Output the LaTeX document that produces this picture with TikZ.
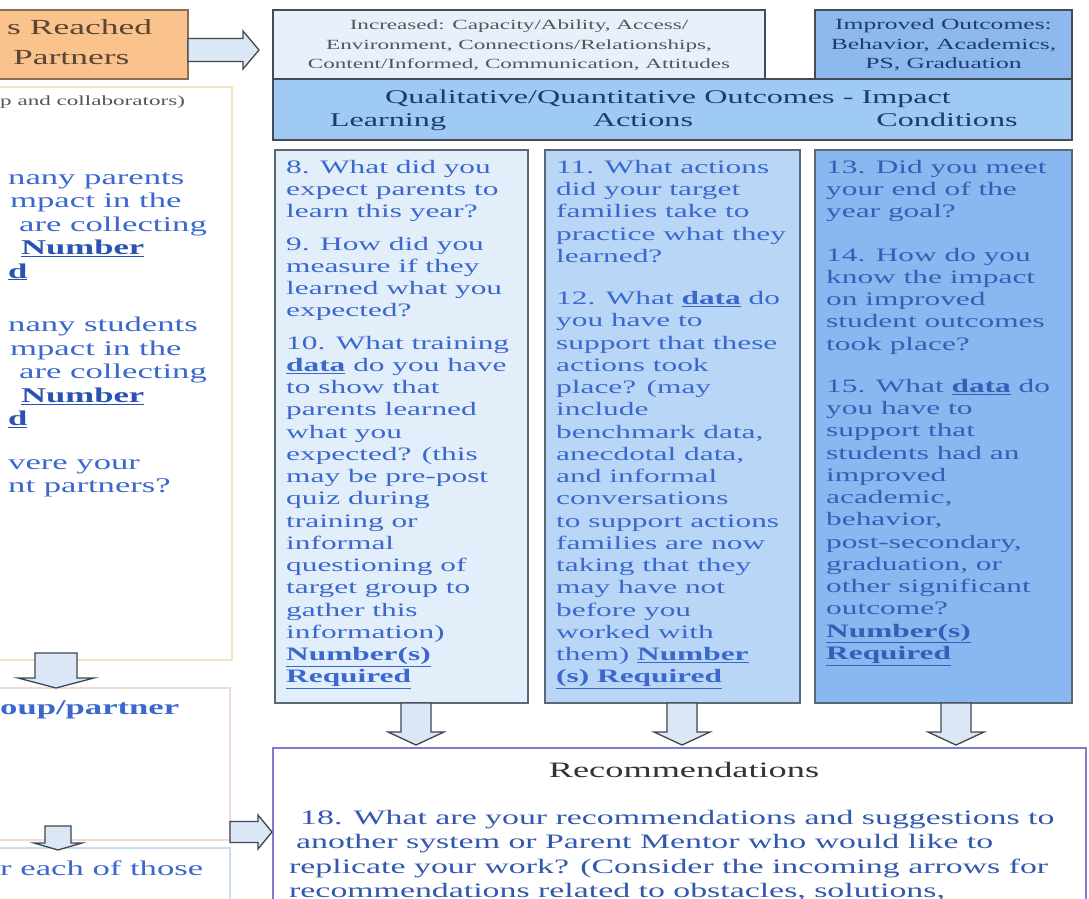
\documentclass[tikz,border=0pt]{standalone}
\usepackage{fontspec}
\setmainfont{Liberation Serif}[FakeStretch=1.65]
\usetikzlibrary{calc}
\definecolor{bordc}{HTML}{5B6878}
\definecolor{topbord}{HTML}{454C58}
\definecolor{orangef}{HTML}{FAC38E}
\definecolor{oranged}{HTML}{8A6E55}
\definecolor{orangetxt}{HTML}{5A4632}
\definecolor{top1f}{HTML}{E8F0FB}
\definecolor{top2f}{HTML}{8DB9EF}
\definecolor{headf}{HTML}{9FCAF4}
\definecolor{col1f}{HTML}{E3EEFB}
\definecolor{col2f}{HTML}{BAD6F6}
\definecolor{col3f}{HTML}{89B7EF}
\definecolor{arrowf}{HTML}{DCE7F6}
\definecolor{arrowd}{HTML}{3F4650}
\definecolor{qblue}{HTML}{3A68CC}
\definecolor{qblueb}{HTML}{2A52B0}
\definecolor{navy}{HTML}{1E3A72}
\definecolor{creamb}{HTML}{F2E3C2}
\definecolor{pinkb}{HTML}{F0D8D8}
\definecolor{lblueb}{HTML}{CADDF3}
\definecolor{recb}{HTML}{7C7CD0}
\definecolor{graytxt}{HTML}{555555}
\newcommand\dataul{\underline{\textbf{data}}}
\newcommand\ulbold[1]{\underline{\textbf{#1}}}
\newcommand\DownArr[5]{\draw[barrow,shift={#1}] (-#2,0) -- (-#2,#4) -- (-#3,#4) -- (0,#5) -- (#3,#4) -- (#2,#4) -- (#2,0) -- cycle;}
\newcommand\RightArr[5]{\draw[barrow,shift={#1}] (0,-#2) -- (#4,-#2) -- (#4,-#3) -- (#5,0) -- (#4,#3) -- (#4,#2) -- (0,#2) -- cycle;}
\begin{document}
\begin{tikzpicture}[x=1pt,y=-1pt,
  box/.style={draw=bordc, line width=1.6pt, anchor=north west, inner sep=0pt, outer sep=0pt},
  topbox/.style={box, draw=topbord, line width=1.8pt},
  leftbox/.style={draw, line width=1.4pt, fill=white, anchor=north west, inner sep=0pt, outer sep=0pt},
  barrow/.style={draw=arrowd, fill=arrowf, line width=1.3pt, line join=miter},
  coltext/.style={anchor=north west, inner sep=0pt, align=left, text=qblue, font=\fontsize{19}{22.25}\selectfont},
  lefttext/.style={anchor=north west, inner sep=0pt, align=left, text=qblue, font=\fontsize{21}{23.5}\selectfont},
  headtext/.style={anchor=base, inner sep=0pt, text=navy, font=\fontsize{19.5}{22}\selectfont}
]
\useasboundingbox (0,0) rectangle (1089,899);
\clip (0,0) rectangle (1089,899);
\fill[white] (0,0) rectangle (1089,899);

% ---------- left column (cut off) ----------
\node[box, draw=oranged, fill=orangef, minimum width=208, minimum height=69] (reached) at (-20,10) {};
\node[anchor=base west, inner sep=0pt, text=orangetxt, font=\fontsize{21.5}{24}\selectfont] (reachedA) at (7,35) {s Reached};
\node[anchor=base west, inner sep=0pt, text=orangetxt, font=\fontsize{21.5}{24}\selectfont] (reachedB) at (13,64) {Partners};

\node[leftbox, draw=creamb, minimum width=242, minimum height=573] (partners) at (-10,87) {};
\node[anchor=base west, inner sep=0pt, text=graytxt, font=\fontsize{14}{16}\selectfont] (collab) at (0,105) {p and collaborators)};

\node[lefttext] (lq1) at (8,172) {nany parents\\\hspace*{2pt}mpact in the\\\hspace*{11pt}are collecting\\\hspace*{13pt}{\color{qblueb}\ulbold{Number}}\\{\color{qblueb}\ulbold{d}}};
\node[lefttext] (lq2) at (8,317) {nany students\\\hspace*{2pt}mpact in the\\\hspace*{11pt}are collecting\\\hspace*{13pt}{\color{qblueb}\ulbold{Number}}\\{\color{qblueb}\ulbold{d}}};
\node[lefttext] (lq3) at (8,459) {vere your\\nt partners?};

\node[leftbox, draw=pinkb, minimum width=240, minimum height=152] (group) at (-10,688) {};
\node[anchor=base west, inner sep=0pt, text=qblue, font=\fontsize{21}{24}\selectfont\bfseries] (groupt) at (0,714) {oup/partner};

\node[leftbox, draw=lblueb, minimum width=240, minimum height=120] (each) at (-10,848) {};
\node[anchor=base west, inner sep=0pt, text=qblue, font=\fontsize{21}{24}\selectfont] (eacht) at (0,875) {r each of those};

% ---------- top boxes ----------
\node[topbox, fill=top1f, minimum width=492, minimum height=69] (top1) at (273,10) {};
\node[anchor=north, inner sep=0pt, align=center, text=graytxt, font=\fontsize{14}{19.5}\selectfont] (top1t) at (519,20) {Increased: Capacity/Ability, Access/\\Environment, Connections/Relationships,\\Content/Informed, Communication, Attitudes};

\node[topbox, fill=top2f, minimum width=257, minimum height=69] (top2) at (815,10) {};
\node[anchor=north, inner sep=0pt, align=center, text=navy, font=\fontsize{15.5}{19.5}\selectfont] (top2t) at (943.5,19) {Improved Outcomes:\\Behavior, Academics,\\PS, Graduation};

\node[topbox, fill=headf, minimum width=799, minimum height=61] (head) at (273,79) {};
\node[headtext] (headt) at (668,103) {Qualitative/Quantitative Outcomes - Impact};
\node[headtext] (hlearn) at (388,126) {Learning};
\node[headtext] (hact) at (643,126) {Actions};
\node[headtext] (hcond) at (947,126) {Conditions};

% ---------- columns ----------
\node[box, fill=col1f, minimum width=253, minimum height=553] (col1) at (275,150) {};
\node[box, fill=col2f, minimum width=255, minimum height=553] (col2) at (545,150) {};
\node[box, fill=col3f, minimum width=257, minimum height=553] (col3) at (815,150) {};

\node[coltext] (c1t) at ($(col1.north west)+(11,10)$) {8. What did you\\expect parents to\\learn this year?\\[10pt]9. How did you\\measure if they\\learned what you\\expected?\\[10pt]10. What training\\\dataul{} do you have\\to show that\\parents learned\\what you\\expected? (this\\may be pre-post\\quiz during\\training or\\informal\\questioning of\\target group to\\gather this\\information)\\\ulbold{Number(s)}\\\ulbold{Required}};

\node[coltext] (c2t) at ($(col2.north west)+(11,10)$) {11. What actions\\did your target\\families take to\\practice what they\\learned?\\[20pt]12. What \dataul{} do\\you have to\\support that these\\actions took\\place? (may\\include\\benchmark data,\\anecdotal data,\\and informal\\conversations\\to support actions\\families are now\\taking that they\\may have not\\before you\\worked with\\them) \ulbold{Number}\\\ulbold{(s) Required}};

\node[coltext, text=qblue!90!black] (c3t) at ($(col3.north west)+(11,10)$) {13. Did you meet\\your end of the\\year goal?\\[21pt]14. How do you\\know the impact\\on improved\\student outcomes\\took place?\\[20pt]15. What \dataul{} do\\you have to\\support that\\students had an\\improved\\academic,\\behavior,\\post-secondary,\\graduation, or\\other significant\\outcome?\\\ulbold{Number(s)}\\\ulbold{Required}};

% ---------- recommendations ----------
\node[box, draw=recb, line width=1.5pt, fill=white, minimum width=813, minimum height=220] (rec) at (273,748) {};
\node[anchor=base, inner sep=0pt, text=black!80, font=\fontsize{22}{24}\selectfont] (rect) at (684,777) {Recommendations};
\node[anchor=north west, inner sep=0pt, align=left, text=qblue!85!black, font=\fontsize{20.5}{24.3}\selectfont] (recq) at (289,810) {\hspace*{11pt}18. What are your recommendations and suggestions to\\\hspace*{7pt}another system or Parent Mentor who would like to\\replicate your work? (Consider the incoming arrows for\\recommendations related to obstacles, solutions,};

% ---------- block arrows ----------
\RightArr{($(reached.east)+(0,5.5)$)}{11.5}{19}{55}{71}
\DownArr{($(partners.south)+(-55,-7)$)}{21}{38}{25}{35}
\DownArr{($(group.south)+(-52,-14)$)}{13}{24}{17}{24}
\RightArr{($(each.north east)+(0,-16)$)}{10.5}{17}{28}{42}
\DownArr{($(col1.south)+(14.5,0)$)}{15}{28}{29}{42}
\DownArr{($(col2.south)+(9.5,0)$)}{15}{28}{29}{42}
\DownArr{($(col3.south)+(12.5,0)$)}{15}{28}{29}{42}
\end{tikzpicture}
\end{document}
